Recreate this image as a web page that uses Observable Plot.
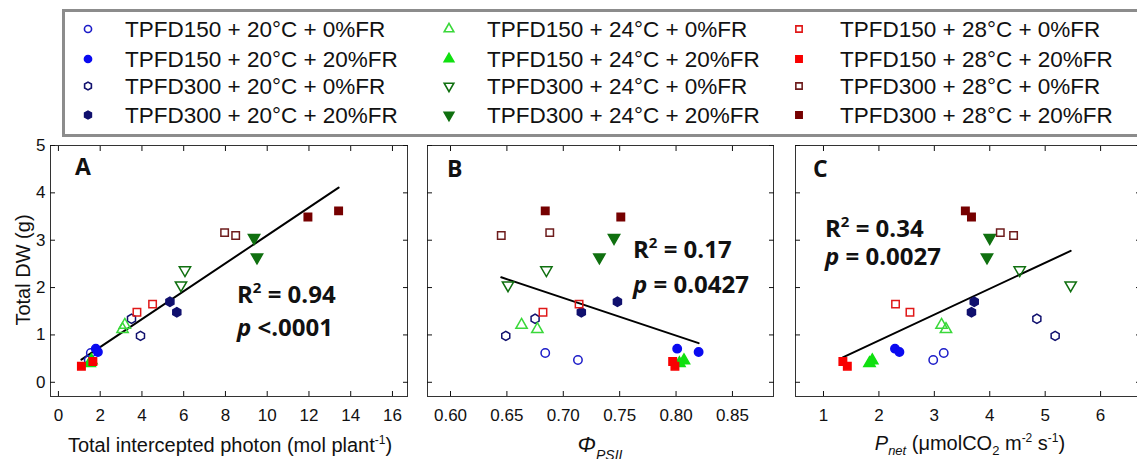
<!DOCTYPE html>
<html><head><meta charset="utf-8">
<script src="https://cdn.jsdelivr.net/npm/d3@7"></script>
<script src="https://cdn.jsdelivr.net/npm/@observablehq/plot@0.6"></script>
<style>
html,body{margin:0;padding:0;background:#fff;overflow:hidden;width:1137px;height:459px;}
#root{position:relative;width:1137px;height:459px;overflow:hidden;font-family:"Liberation Sans",Arial,sans-serif;}
#root svg{position:absolute;overflow:hidden;}
</style></head>
<body><div id="root"></div>
<script>
// ---------- data ----------
const groups = [
  "TPFD150 + 20°C + 0%FR","TPFD150 + 20°C + 20%FR","TPFD300 + 20°C + 0%FR","TPFD300 + 20°C + 20%FR",
  "TPFD150 + 24°C + 0%FR","TPFD150 + 24°C + 20%FR","TPFD300 + 24°C + 0%FR","TPFD300 + 24°C + 20%FR",
  "TPFD150 + 28°C + 0%FR","TPFD150 + 28°C + 20%FR","TPFD300 + 28°C + 0%FR","TPFD300 + 28°C + 20%FR"
];
const totalDW = [[0.62,0.47],[0.71,0.64],[1.34,0.98],[1.70,1.48],[1.21,1.12],[0.46,0.40],[2.37,2.05],[3.05,2.64],[1.65,1.48],[0.44,0.34],[3.16,3.10],[3.62,3.49]];
const photon  = [[1.55,1.45],[1.79,1.89],[3.50,3.93],[5.34,5.67],[3.18,3.07],[1.58,1.50],[6.06,5.87],[9.37,9.51],[4.51,3.76],[1.65,1.10],[7.96,8.49],[13.42,11.95]];
const phiPSII = [[0.684,0.713],[0.801,0.820],[0.675,0.649],[0.748,0.716],[0.663,0.677],[0.807,0.803],[0.685,0.651],[0.745,0.732],[0.714,0.682],[0.797,0.799],[0.688,0.645],[0.684,0.751]];
const pnet    = [[3.17,2.98],[2.29,2.37],[4.85,5.18],[3.72,3.67],[3.13,3.21],[1.88,1.83],[4.54,5.46],[4.00,3.95],[2.30,2.56],[1.35,1.43],[4.19,4.43],[3.56,3.67]];
const yTicks = [0,1,2,3,4,5];
const xTicksA = [0,2,4,6,8,10,12,14,16];
const xTicksB = [0.60,0.65,0.70,0.75,0.80,0.85];
const xTicksC = [1,2,3,4,5,6];
const statsA = ["0.94", "<.0001"];
const statsB = ["0.17", "= 0.0427"];
const statsC = ["0.34", "= 0.0027"];

// ---------- styles ----------
const hexagon = {draw(ctx, size){ const r = Math.sqrt(size*2/(3*Math.sqrt(3))); for (let k=0;k<6;k++){ const a = k*Math.PI/3 + Math.PI/6; const x = r*Math.cos(a), y = r*Math.sin(a); k ? ctx.lineTo(x,y) : ctx.moveTo(x,y);} ctx.closePath(); }};
const triangleDown = {draw(ctx, size){ const y = -Math.sqrt(size/(Math.sqrt(3)*3)); ctx.moveTo(0,-2*y); ctx.lineTo(-Math.sqrt(3)*y, y); ctx.lineTo(Math.sqrt(3)*y, y); ctx.closePath(); }};
const symbolTypes = [d3.symbolCircle,d3.symbolCircle,hexagon,hexagon,d3.symbolTriangle,d3.symbolTriangle,triangleDown,triangleDown,d3.symbolSquare,d3.symbolSquare,d3.symbolSquare,d3.symbolSquare];
const strokes = ["#1c1cc8","#0a0af0","#10106e","#10106e","#3ad83a","#10e010","#107010","#107010","#e01818","#f80000","#6e1c1c","#760000"];
const fills   = ["none","#0a0af0","none","#10106e","none","#10e010","none","#107010","none","#f80000","none","#760000"];

const W = 1137;
const root = d3.select("#root");

// ---------- legend ----------
const leg = root.append("svg").attr("width", W).attr("height", 140).style("left","0px").style("top","0px");
leg.append("rect").attr("x",63.5).attr("y",10.5).attr("width",1100).attr("height",125)
  .attr("fill","none").attr("stroke","#8c8c8c").attr("stroke-width",3);
const colSym = [88, 449, 799], colText = [125, 487, 840], rowBase = [37, 67, 94, 123];
groups.forEach((g,i)=>{
  const c = Math.floor(i/4), r = i%4;
  leg.append("path").attr("d", d3.symbol(symbolTypes[i], 40)())
    .attr("transform", `translate(${colSym[c]},${rowBase[r]-8})`)
    .attr("fill", fills[i]).attr("stroke", strokes[i]).attr("stroke-width", 1.6);
  leg.append("text").attr("x", colText[c]).attr("y", rowBase[r]).attr("text-anchor","start")
    .style("font-family","'Liberation Sans',Arial,sans-serif").style("font-size","22.5px").attr("fill","#111").text(g);
});

// ---------- panels ----------
function panel({xs, domain, ticks, fmt, left, width, mL, mR, yLabels}) {
  const rows = groups.flatMap((g,i)=> totalDW[i].map((y,j)=>({i, x: xs[i][j], y})));
  const blank = () => "";
  const marks = [
    Plot.frame({stroke:"#333"}),
    Plot.axisX(ticks, {anchor:"bottom", tickSize:-5, tickPadding:17, tickFormat: fmt, fontSize:17, label:null}),
    Plot.axisX(ticks, {anchor:"top", tickSize:-5, tickFormat: blank, label:null}),
    Plot.axisY(yTicks, {anchor:"left", tickSize:-5, tickPadding:10, tickFormat: yLabels ? (d=>String(d)) : blank, fontSize:17, label:null}),
    Plot.axisY(yTicks, {anchor:"right", tickSize:-5, tickFormat: blank, label:null}),
    Plot.linearRegressionY(rows, {x:"x", y:"y", ci:0, stroke:"black", strokeWidth:2}),
    ...groups.map((g,i)=> Plot.dot(rows.filter(d=>d.i===i), {x:"x", y:"y", symbol: symbolTypes[i], r: 4.2, fill: fills[i], stroke: strokes[i], strokeWidth: 1.5}))
  ];
  const svg = Plot.plot({
    width, height: 321, marginTop: 7, marginBottom: 63, marginLeft: mL, marginRight: mR,
    x: {domain, axis: null}, y: {domain: [-0.3, 5], axis: null},
    style: {fontFamily: "'Liberation Sans',Arial,sans-serif", fontSize: "17px", color: "#111", background: "transparent"},
    marks
  });
  d3.select(svg).style("left", left + "px").style("top", "138px");
  root.node().appendChild(svg);
  return d3.select(svg);
}

function letter(svg, x, y, t){
  svg.append("text").attr("x",x).attr("y",y).attr("text-anchor","start").style("font","bold 23px 'Open Sans',sans-serif").attr("fill","#111").text(t);
}
function stats(svg, x, y1, y2, s){
  const t1 = svg.append("text").attr("x",x).attr("y",y1).attr("text-anchor","start").style("font","bold 24px 'Open Sans',sans-serif").attr("fill","#111");
  t1.append("tspan").text("R");
  t1.append("tspan").attr("dy",-10).style("font-size","15px").text("2");
  t1.append("tspan").attr("dy",10).text(" = " + s[0]);
  const t2 = svg.append("text").attr("x",x).attr("y",y2).attr("text-anchor","start").style("font","bold 24px 'Open Sans',sans-serif").attr("fill","#111");
  t2.append("tspan").style("font-style","italic").text("p");
  t2.append("tspan").text(" " + s[1]);
}
const lblFont = "20px 'Liberation Sans',Arial,sans-serif";

// Panel A
const A = panel({xs: photon, domain: [-0.38, 16.72], ticks: xTicksA, fmt: d=>String(d), left: 0, width: 417, mL: 50, mR: 10, yLabels: true});
letter(A, 75, 37, "A");
stats(A, 237, 165, 198, statsA);
A.append("text").attr("transform","translate(23,132) rotate(-90)").attr("text-anchor","middle").attr("dy","0.35em")
  .style("font", lblFont).attr("fill","#111").text("Total DW (g)");
{
  const t = A.append("text").attr("x", 230).attr("y", 314).attr("text-anchor","middle").style("font", lblFont).attr("fill","#111");
  t.append("tspan").text("Total intercepted photon (mol plant");
  t.append("tspan").attr("dy",-8).style("font-size","12px").text("-1");
  t.append("tspan").attr("dy",8).text(")");
}

// Panel B
const B = panel({xs: phiPSII, domain: [0.5796, 0.8864], ticks: xTicksB, fmt: d3.format(".2f"), left: 417, width: 368, mL: 10, mR: 12, yLabels: false});
letter(B, 30, 39, "B");
stats(B, 216, 120, 155, statsB);
{
  const t = B.append("text").attr("x", 183).attr("y", 314).attr("text-anchor","middle").style("font","italic 22px 'Liberation Sans',Arial,sans-serif").attr("fill","#111");
  t.append("tspan").text("Φ");
  t.append("tspan").attr("dy",8).style("font-size","14px").text("PSII");
}

// Panel C
const C = panel({xs: pnet, domain: [0.495, 6.72], ticks: xTicksC, fmt: d=>String(d), left: 785, width: 357, mL: 10, mR: 2, yLabels: false});
letter(C, 28, 39, "C");
stats(C, 40, 99, 127, statsC);
{
  const t = C.append("text").attr("x", 185).attr("y", 312).attr("text-anchor","middle").style("font", lblFont).attr("fill","#111");
  t.append("tspan").style("font-style","italic").text("P");
  t.append("tspan").attr("dy",5).style("font-style","italic").style("font-size","13px").text("net");
  t.append("tspan").attr("dy",-5).text(" (μmolCO");
  t.append("tspan").attr("dy",5).style("font-size","13px").text("2");
  t.append("tspan").attr("dy",-5).text(" m");
  t.append("tspan").attr("dy",-8).style("font-size","12px").text("-2");
  t.append("tspan").attr("dy",8).text(" s");
  t.append("tspan").attr("dy",-8).style("font-size","12px").text("-1");
  t.append("tspan").attr("dy",8).text(")");
}
</script>
</body></html>
